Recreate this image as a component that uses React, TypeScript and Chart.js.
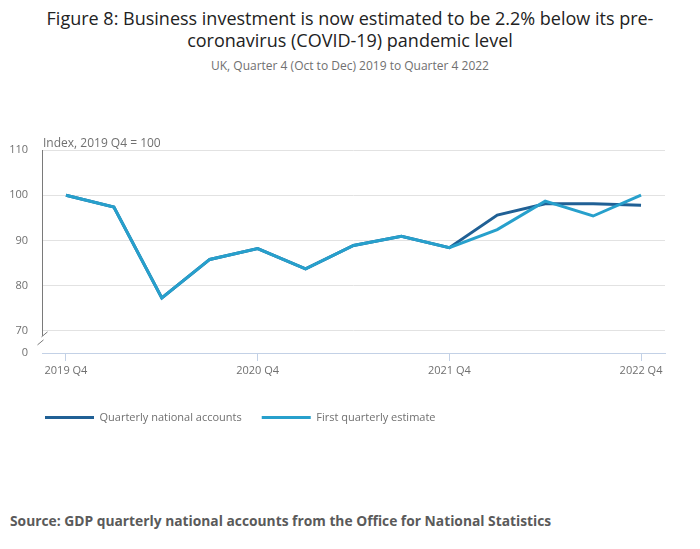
import { useEffect, useRef } from "react"
import { Chart, registerables } from "chart.js"

Chart.register(...registerables)

// quarterly index, 2019 Q4 = 100
const quarters = [
  "2019 Q4", "2020 Q1", "2020 Q2", "2020 Q3", "2020 Q4", "2021 Q1", "2021 Q2",
  "2021 Q3", "2021 Q4", "2022 Q1", "2022 Q2", "2022 Q3", "2022 Q4",
]
const quarterlyNationalAccounts = [100, 97.4, 77.3, 85.8, 88.2, 83.7, 88.9, 90.9, 88.4, 95.6, 98.1, 98.1, 97.8]
const firstQuarterlyEstimate = [100, 97.4, 77.3, 85.8, 88.2, 83.7, 88.9, 90.9, 88.4, 92.4, 98.7, 95.4, 100.0]
const yTicks = [70, 80, 90, 100, 110]

// where "0" sits below the axis break (22px under 70 at 4.5px per point)
const ZERO_AT = 70 - 22 / 4.5

const DARK = "#206095"
const AQUA = "#27a0cc"
const GREY_TEXT = "#707070"

const axisBreak = {
  id: "axisBreak",
  afterLayout(chart: Chart) {
    // nudge the legend so it lines up under the plot like the original
    const legend = (chart as any).legend
    if (legend) legend.left = 25
  },
  afterDraw(chart: Chart) {
    const { ctx, chartArea, scales } = chart
    const x = Math.round(chartArea.left) + 0.5
    const y70 = scales.y.getPixelForValue(70)
    ctx.save()
    ctx.strokeStyle = "#7a7a7a"
    ctx.lineWidth = 1
    ctx.beginPath()
    ctx.moveTo(x, chartArea.top)
    ctx.lineTo(x, y70 + 5)
    ctx.stroke()
    ctx.beginPath()
    ctx.moveTo(x - 1, y70 + 6)
    ctx.lineTo(x + 5, y70 + 1)
    ctx.moveTo(x - 5, y70 + 14)
    ctx.lineTo(x + 1, y70 + 9)
    ctx.stroke()
    ctx.fillStyle = GREY_TEXT
    ctx.font = "12px 'Open Sans'"
    ctx.textBaseline = "bottom"
    ctx.textAlign = "left"
    ctx.fillText("Index, 2019 Q4 = 100", chartArea.left + 1, chartArea.top)
    ctx.restore()
  },
}

function LineChart() {
  const chartRef = useRef<HTMLCanvasElement>(null)
  const chartInstance = useRef<Chart | null>(null)

  useEffect(() => {
    if (!chartRef.current) return
    if (chartInstance.current) chartInstance.current.destroy()

    Chart.defaults.font.family = "'Open Sans', sans-serif"

    chartInstance.current = new Chart(chartRef.current, {
      type: "line",
      data: {
        labels: quarters,
        datasets: [
          {
            label: "Quarterly national accounts",
            data: quarterlyNationalAccounts,
            borderColor: DARK,
            backgroundColor: DARK,
            borderWidth: 3,
            pointRadius: 0,
            tension: 0,
            order: 1,
          },
          {
            label: "First quarterly estimate",
            data: firstQuarterlyEstimate,
            borderColor: AQUA,
            backgroundColor: AQUA,
            borderWidth: 3,
            pointRadius: 0,
            tension: 0,
            order: 0,
          },
        ],
      },
      options: {
        animation: false,
        responsive: false,
        layout: { padding: { left: 0, right: 35, top: 50, bottom: 12 } },
        scales: {
          x: {
            offset: true,
            grid: {
              drawOnChartArea: false,
              drawTicks: true,
              tickLength: 8,
              color: "#c3d1e6",
            },
            border: { display: true, color: "#c3d1e6" },
            ticks: {
              autoSkip: false,
              maxRotation: 0,
              padding: 3,
              color: GREY_TEXT,
              font: { size: 11 },
              callback: (_v, i) => (quarters[i].endsWith("Q4") ? quarters[i] : null),
            },
            afterFit: (scale) => {
              scale.height = 39
            },
          },
          y: {
            min: ZERO_AT,
            max: 110,
            afterBuildTicks: (scale) => {
              scale.ticks = [ZERO_AT, ...yTicks].map((v) => ({ value: v }))
            },
            afterFit: (scale) => {
              scale.width = 42
            },
            grid: {
              drawTicks: false,
              color: (c) => (c.tick && c.tick.value < 69 ? "rgba(0,0,0,0)" : "#e2e2e2"),
            },
            border: { display: false },
            ticks: {
              padding: 14,
              color: GREY_TEXT,
              font: { size: 11 },
              callback: (v) => (Number(v) < 69 ? "0" : String(v)),
            },
          },
        },
        plugins: {
          legend: {
            position: "bottom",
            align: "start",
            labels: {
              boxWidth: 49,
              boxHeight: 3,
              padding: 20,
              color: GREY_TEXT,
              font: { size: 11 },
              generateLabels: (chart) =>
                chart.data.datasets.map((ds, i) => ({
                  text: ds.label as string,
                  fillStyle: ds.borderColor as string,
                  strokeStyle: ds.borderColor as string,
                  lineWidth: 0,
                  fontColor: GREY_TEXT,
                  datasetIndex: i,
                  hidden: false,
                })),
            },
          },
          tooltip: { enabled: false },
        },
      },
      plugins: [axisBreak],
    })

    return () => {
      if (chartInstance.current) {
        chartInstance.current.destroy()
        chartInstance.current = null
      }
    }
  }, [])

  return <canvas ref={chartRef} width={700} height={345} style={{ position: "absolute", left: 0, top: 100 }} />
}

export default function App() {
  return (
    <div
      style={{
        position: "fixed",
        left: 0,
        top: 0,
        width: 700,
        height: 549,
        background: "#fff",
        fontFamily: "'Open Sans', sans-serif",
      }}
    >
      <div
        style={{
          position: "absolute",
          top: 7,
          left: 0,
          width: 700,
          textAlign: "center",
          fontSize: 18,
          lineHeight: "22px",
          color: "#222",
        }}
      >
        Figure 8: Business investment is now estimated to be 2.2% below its pre-
        <br />
        coronavirus (COVID-19) pandemic level
      </div>
      <div
        style={{
          position: "absolute",
          top: 58,
          left: 0,
          width: 700,
          textAlign: "center",
          fontSize: 12,
          lineHeight: "16px",
          color: GREY_TEXT,
        }}
      >
        UK, Quarter 4 (Oct to Dec) 2019 to Quarter 4 2022
      </div>
      <LineChart />
      <div
        style={{
          position: "absolute",
          top: 511,
          left: 10,
          fontSize: 13.8,
          lineHeight: "20px",
          fontWeight: 700,
          color: "#5a5a5a",
        }}
      >
        Source: GDP quarterly national accounts from the Office for National Statistics
      </div>
    </div>
  )
}
